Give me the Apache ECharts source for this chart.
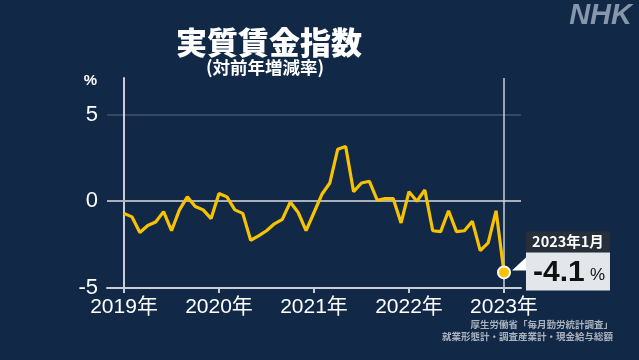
<!DOCTYPE html>
<html><head><meta charset="utf-8">
<script src="https://cdn.jsdelivr.net/npm/echarts@6/dist/echarts.min.js"></script>
<style>html,body{margin:0;padding:0;background:#112847;}#c{width:639px;height:360px;}</style>
</head><body><div id="c"></div>
<script>
const months = [];
for (let y = 2019; y <= 2022; y++) for (let m = 1; m <= 12; m++) months.push(y + '-' + m);
months.push('2023-1');
const values = [
  -0.7, -0.9, -1.8, -1.4, -1.2, -0.6, -1.7, -0.5, 0.25, -0.3, -0.5, -1.0,
  0.45, 0.25, -0.5, -0.7, -2.25, -2.0, -1.7, -1.3, -1.05, -0.05, -0.65, -1.7,
  -0.65, 0.4, 1.05, 3.0, 3.15, 0.55, 1.05, 1.15, 0.05, 0.15, 0.15, -1.25,
  0.55, 0.0, 0.65, -1.7, -1.75, -0.55, -1.75, -1.7, -1.15, -2.85, -2.4, -0.55,
  -4.1
];
const yearTicks = [0, 12, 24, 36, 48];
const yearLabels = ['2019年', '2020年', '2021年', '2022年', '2023年'];
const yTicks = [-5, 0, 5];
const titleText = '実質賃金指数';
const subtitleText = '(対前年増減率)';
const calloutDate = '2023年1月';
const calloutValue = '-4.1';
const sourceLines = ['厚生労働省「毎月勤労統計調査」', '就業形態計・調査産業計・現金給与総額'];

const FONT = '"Liberation Sans","Noto Sans CJK JP",sans-serif';
const JP = '"Noto Sans CJK JP","Liberation Sans",sans-serif';
const chart = echarts.init(document.getElementById('c'), null, {renderer: 'canvas'});
const data = values.map((v, i) => [i, v]);
const last = data.length - 1;

chart.setOption({
  backgroundColor: '#112847',
  animation: false,
  grid: {left: 107, right: 118, top: 78, bottom: 72, containLabel: false},
  xAxis: {
    type: 'value', min: -2.15, max: 50.15,
    axisLine: {show: true, onZero: false, lineStyle: {color: '#c9ced6', width: 2}},
    axisTick: {show: true, customValues: yearTicks, length: 5, lineStyle: {color: '#c9ced6', width: 2}},
    axisLabel: {customValues: yearTicks, color: '#ffffff', fontSize: 21, fontFamily: FONT, margin: 9,
      formatter: v => yearLabels[yearTicks.indexOf(v)] || ''},
    splitLine: {show: false}
  },
  yAxis: {
    type: 'value', min: -5, max: 7.1, interval: 5,
    axisLine: {show: true, lineStyle: {color: '#c9ced6', width: 2}},
    axisTick: {show: false},
    axisLabel: {customValues: yTicks, color: '#ffffff', fontSize: 22, fontFamily: FONT, margin: 9,
      formatter: v => yTicks.indexOf(v) >= 0 ? String(v) : ''},
    splitLine: {show: false}
  },
  series: [{
    type: 'line', data: data, z: 5,
    lineStyle: {color: '#f7c300', width: 3.2},
    itemStyle: {color: '#f7c300', borderColor: '#ffffff', borderWidth: 2},
    symbol: (v, p) => p.dataIndex === last ? 'circle' : 'none',
    symbolSize: 12, showAllSymbol: true,
    markLine: {
      silent: true, symbol: 'none', label: {show: false}, animation: false,
      data: [
        {yAxis: 5, lineStyle: {color: 'rgba(255,255,255,0.2)', width: 1.5, type: 'solid'}},
        {yAxis: 0, lineStyle: {color: '#a9b0ba', width: 2, type: 'solid'}},
        [{coord: [48, 7.1], lineStyle: {color: '#c9ced6', width: 1.5, type: 'solid'}}, {coord: [48, -5]}]
      ]
    }
  }]
});

const p = chart.convertToPixel({gridIndex: 0}, data[last]);
const px = p[0], py = p[1];
const axisTop = chart.convertToPixel({gridIndex: 0}, [-2.15, 7.1]);
const cx = px + 22, cw = 84;
chart.setOption({
  graphic: [
    {type: 'text', x: 269, y: 42, style: {text: titleText, fill: '#fff', font: '900 31px ' + JP, align: 'center', verticalAlign: 'middle'}},
    {type: 'text', x: 265, y: 67, style: {text: subtitleText, fill: '#fff', font: 'bold 17.5px ' + JP, align: 'center', verticalAlign: 'middle'}},
    {type: 'text', x: axisTop[0] - 10, y: axisTop[1] + 3, style: {text: '%', fill: '#fff', font: 'bold 15px ' + FONT, align: 'right', verticalAlign: 'middle'}},
    {type: 'text', x: 632, y: 16, style: {text: 'NHK', fill: '#8796ab', font: 'italic bold 29px "Liberation Sans",sans-serif', align: 'right', verticalAlign: 'middle'}},
    {type: 'text', right: 26, top: 320, style: {text: sourceLines[0], fill: '#aab2bd', font: 'bold 9.5px ' + JP}},
    {type: 'text', right: 26, top: 332, style: {text: sourceLines[1], fill: '#aab2bd', font: 'bold 9.5px ' + JP}},
    {type: 'polygon', shape: {points: [[px + 8, py - 2], [cx + 1, py - 16], [cx + 1, py - 2]]}, style: {fill: '#ffffff'}, z: 20},
    {type: 'rect', shape: {x: cx, y: py - 41, width: cw, height: 21}, style: {fill: '#272f3a'}, z: 20},
    {type: 'rect', shape: {x: cx, y: py - 20, width: cw, height: 38}, style: {fill: '#e3e6ea'}, z: 20},
    {type: 'text', x: cx + cw / 2, y: py - 30.5, style: {text: calloutDate, fill: '#fff', font: 'bold 14.5px ' + JP, align: 'center', verticalAlign: 'middle'}, z: 21},
    {type: 'text', x: cx + 7, y: py + 0, style: {text: calloutValue, fill: '#111', font: 'bold 30px ' + FONT, align: 'left', verticalAlign: 'middle'}, z: 21},
    {type: 'text', x: cx + 64, y: py + 3, style: {text: '%', fill: '#111', font: '17px ' + FONT, align: 'left', verticalAlign: 'middle'}, z: 21}
  ]
});
</script></body></html>
